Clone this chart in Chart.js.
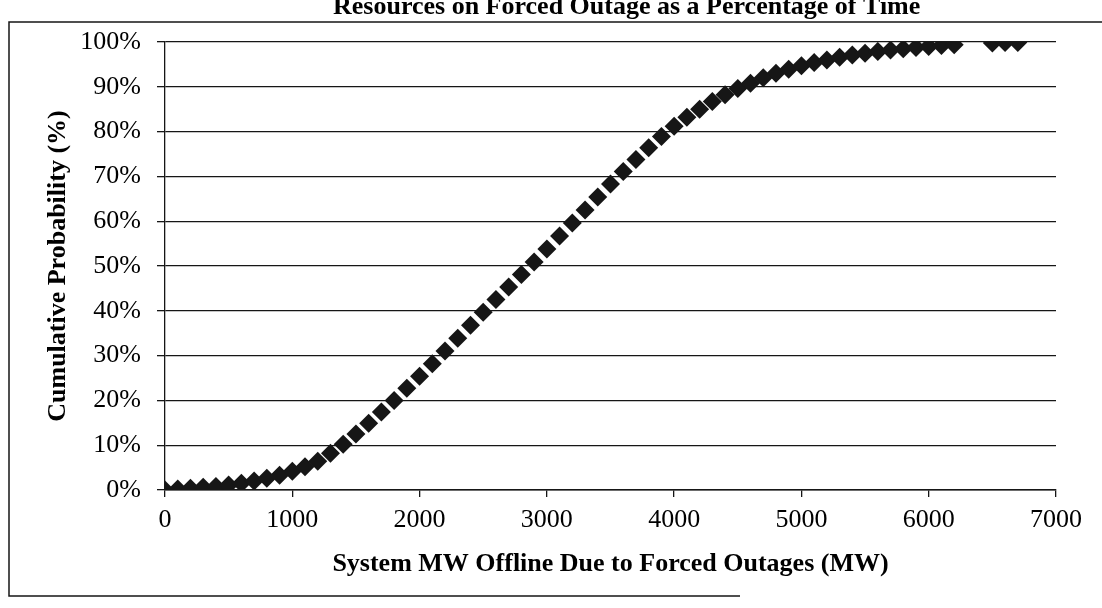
<!DOCTYPE html>
<html>
<head>
<meta charset="utf-8">
<script src="https://cdn.jsdelivr.net/npm/chart.js@4.4.1/dist/chart.umd.min.js"></script>
<style>
  html, body { margin: 0; padding: 0; background: #fff; }
  #wrap { width: 1102px; height: 608px; }
</style>
</head>
<body>
<div id="wrap"><canvas id="outageChart" width="1102" height="608"></canvas></div>
<script>
// values
const mwOffline = [0, 100, 200, 300, 400, 500, 600, 700, 800, 900,
    1000, 1100, 1200, 1300, 1400, 1500, 1600, 1700, 1800, 1900,
    2000, 2100, 2200, 2300, 2400, 2500, 2600, 2700, 2800, 2900,
    3000, 3100, 3200, 3300, 3400, 3500, 3600, 3700, 3800, 3900,
    4000, 4100, 4200, 4300, 4400, 4500, 4600, 4700, 4800, 4900,
    5000, 5100, 5200, 5300, 5400, 5500, 5600, 5700, 5800, 5900,
    6000, 6100, 6200, 6500, 6600, 6700];
const cumulativePct = [0.0, 0.2, 0.4, 0.6, 0.8, 1.1, 1.5, 2.0, 2.6, 3.3,
    4.2, 5.2, 6.4, 8.2, 10.2, 12.5, 14.9, 17.4, 20.0, 22.7,
    25.4, 28.2, 31.0, 33.9, 36.8, 39.7, 42.5, 45.3, 48.1, 50.9,
    53.8, 56.7, 59.6, 62.5, 65.4, 68.3, 71.1, 73.8, 76.4, 78.9,
    81.2, 83.2, 85.0, 86.7, 88.2, 89.6, 90.8, 92.0, 93.0, 93.9,
    94.7, 95.4, 96.0, 96.6, 97.1, 97.5, 97.9, 98.2, 98.5, 98.8,
    99.0, 99.2, 99.4, 99.8, 99.9, 99.9];
const xTickValues = [0, 1000, 2000, 3000, 4000, 5000, 6000, 7000];
const yTickValues = [0, 10, 20, 30, 40, 50, 60, 70, 80, 90, 100];

const figureTitle = 'Resources on Forced Outage as a Percentage of Time';
const xTitle = 'System MW Offline Due to Forced Outages (MW)';
const yTitle = 'Cumulative Probability (%)';

const serif = '"Liberation Serif", "Times New Roman", serif';
const ink = '#161616';

// scanned frame + cropped figure caption at the very top
const framePlugin = {
    id: 'frame',
    beforeDraw(chart) {
        const c = chart.ctx;
        c.save();
        c.fillStyle = '#fff';
        c.fillRect(0, 0, chart.width, chart.height);
        c.strokeStyle = ink;
        c.lineWidth = 1.5;
        c.beginPath();
        c.moveTo(1102, 22);
        c.lineTo(9, 22);
        c.lineTo(9, 596);
        c.lineTo(740, 596);
        c.stroke();
        c.font = 'bold 26px ' + serif;
        c.fillStyle = '#000';
        c.textBaseline = 'alphabetic';
        c.fillText(figureTitle, 333, 14);
        c.restore();
    }
};

const points = mwOffline.map((mw, i) => ({ x: mw, y: cumulativePct[i] }));

const ctx = document.getElementById('outageChart');
const outageChart = new Chart(ctx, {
    type: 'scatter',
    data: {
        datasets: [{
            label: 'Cumulative Probability',
            data: points,
            pointStyle: 'rectRot',
            pointRadius: 9.5,
            borderWidth: 0,
            backgroundColor: ink,
            borderColor: ink
        }]
    },
    plugins: [framePlugin],
    options: {
        responsive: false,
        animation: false,
        devicePixelRatio: 1,
        layout: {
            padding: { left: 0, right: 46, top: 42, bottom: 0 }
        },
        plugins: {
            legend: { display: false },
            tooltip: { enabled: false }
        },
        scales: {
            x: {
                type: 'linear',
                min: 0,
                max: 7000,
                afterBuildTicks: scale => { scale.ticks = xTickValues.map(v => ({ value: v })); },
                afterFit: scale => { scale.height = 118; },
                grid: {
                    drawOnChartArea: false,
                    drawTicks: true,
                    tickLength: 7,
                    color: ink,
                    lineWidth: 1.3
                },
                border: { display: true, color: ink, width: 1.5 },
                ticks: {
                    color: '#000',
                    padding: 8,
                    maxRotation: 0,
                    font: { family: serif, size: 26 },
                    callback: v => String(v)
                },
                title: {
                    display: true,
                    text: xTitle,
                    color: '#000',
                    padding: { top: 0, bottom: 28 },
                    font: { family: serif, size: 26, weight: 'bold' }
                }
            },
            y: {
                min: 0,
                max: 100,
                afterBuildTicks: scale => { scale.ticks = yTickValues.map(v => ({ value: v })); },
                afterFit: scale => { scale.width = 165; },
                grid: {
                    drawTicks: true,
                    tickLength: 8,
                    color: ink,
                    lineWidth: 1.3
                },
                border: { display: true, color: ink, width: 1.3 },
                ticks: {
                    color: '#000',
                    padding: 16,
                    font: { family: serif, size: 26 },
                    callback: v => v + '%'
                },
                title: {
                    display: true,
                    text: yTitle,
                    color: '#000',
                    padding: { top: 43, bottom: 0 },
                    font: { family: serif, size: 26, weight: 'bold' }
                }
            }
        }
    }
});
</script>
</body>
</html>
